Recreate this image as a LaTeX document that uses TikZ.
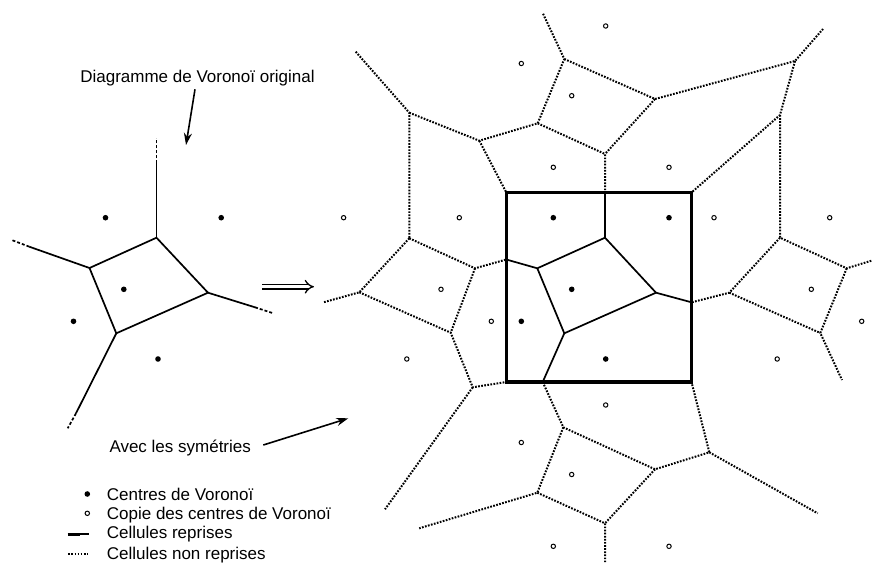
\documentclass[tikz,border=0pt]{standalone}
\usepackage{fontspec}
\setmainfont{Liberation Sans}
\usetikzlibrary{arrows.meta}

\begin{document}
\begin{tikzpicture}[x=1pt, y=-1pt,
  cell/.style={line width=1.7pt},
  copycell/.style={line width=2pt, dash pattern=on 1.7pt off 1.4pt},
  loose/.style={line width=1.7pt, dash pattern=on 3pt off 2pt},
  frame/.style={line width=3.6pt},
  centre/.style={circle, fill=black, inner sep=0pt, minimum size=5.6pt},
  copie/.style={circle, draw=black, line width=1pt, inner sep=0pt, minimum size=4.4pt},
  label/.style={font=\fontsize{17}{20}\selectfont, inner sep=0pt},
  pointer/.style={line width=1.6pt, -{Stealth[length=12pt,width=8pt]}},
]
\useasboundingbox (0,0) rectangle (872,562);

% ---------------- original diagram (left) ----------------
\node[centre] (oc1) at (105.5,217.7) {};
\node[centre] (oc2) at (221.2,217.7) {};
\node[centre] (oc3) at (123.8,289.3) {};
\node[centre] (oc4) at (73.5,321.3) {};
\node[centre] (oc5) at (158,359) {};

\coordinate (lW) at (156.5,237.7);
\coordinate (lX) at (89.5,268);
\coordinate (lY) at (116.3,333.3);
\coordinate (lZ) at (208,292.7);
\coordinate (lWa) at (156.5,163.3);  \coordinate (lWb) at (156.5,138.3);
\coordinate (lXa) at (29.3,246.7);   \coordinate (lXb) at (11.7,240);
\coordinate (lZa) at (255,307.3);    \coordinate (lZb) at (273.3,313.3);
\coordinate (lYa) at (76,413.3);     \coordinate (lYb) at (67.7,428.3);

\draw[cell] (lW) -- (lX) -- (lY) -- (lZ) -- cycle;
\draw[cell] (lW) -- (lWa);  \draw[loose] (lWa) -- (lWb);
\draw[cell] (lX) -- (lXa);  \draw[loose] (lXa) -- (lXb);
\draw[cell] (lZ) -- (lZa);  \draw[loose] (lZa) -- (lZb);
\draw[cell] (lY) -- (lYa);  \draw[loose] (lYa) -- (lYb);

% ---------------- diagram with symmetries (right) ----------------
\coordinate (A) at (409.3,112.7);
\coordinate (B) at (479.3,140.7);
\coordinate (C) at (537.7,123.3);
\coordinate (D) at (564.3,59);
\coordinate (E) at (655,99);
\coordinate (F) at (795,61);
\coordinate (G) at (780,115);
\coordinate (H) at (605,154);
\coordinate (I) at (409.3,238.3);
\coordinate (J) at (475,268.3);
\coordinate (K) at (359.3,292.3);
\coordinate (L) at (450.7,332.7);
\coordinate (M) at (472.7,387.3);
\coordinate (N) at (780,237.7);
\coordinate (O) at (846.7,268.3);
\coordinate (P) at (729.3,292.7);
\coordinate (Q) at (820.3,333);
\coordinate (R) at (709.3,452.3);
\coordinate (S) at (655,469.3);
\coordinate (T) at (605,523.3);
\coordinate (U) at (563.3,427.3);
\coordinate (V) at (537.3,492.7);

% open ends
\coordinate (a1) at (355.7,51.7);
\coordinate (d1) at (542.7,13);
\coordinate (f1) at (823,29);
\coordinate (o1) at (872,260.5);
\coordinate (q1) at (842,380);
\coordinate (k1) at (322.7,302.5);
\coordinate (m1) at (385,509.3);
\coordinate (v1) at (419.2,528.3);
\coordinate (t1) at (605,562);
\coordinate (r1) at (817.7,513.3);

% square frame and points on it
\coordinate (bTL) at (506.3,192.5);
\coordinate (bTR) at (691.5,192.5);
\coordinate (bBR) at (691.5,382);
\coordinate (bBL) at (506.3,382);
\coordinate (eT) at (605,192.5);
\coordinate (eL) at (506.3,259.5);
\coordinate (eR) at (691.5,302.3);
\coordinate (eB) at (542.7,382);

% cells of the copies
\draw[copycell] (a1) -- (A) -- (I);
\draw[copycell] (A) -- (B) -- (C) -- (D) -- (d1);
\draw[copycell] (B) -- (bTL);
\draw[copycell] (D) -- (E) -- (F) -- (f1);
\draw[copycell] (C) -- (H) -- (eT);
\draw[copycell] (E) -- (H);
\draw[copycell] (F) -- (G) -- (bTR);
\draw[copycell] (G) -- (N) -- (O) -- (o1);
\draw[copycell] (O) -- (Q) -- (q1);
\draw[copycell] (N) -- (P) -- (eR);
\draw[copycell] (P) -- (Q);
\draw[copycell] (I) -- (J) -- (eL);
\draw[copycell] (I) -- (K) -- (k1);
\draw[copycell] (J) -- (L);
\draw[copycell] (K) -- (L) -- (M) -- (bBL);
\draw[copycell] (M) -- (m1);
\draw[copycell] (eB) -- (U) -- (S) -- (R) -- (bBR);
\draw[copycell] (U) -- (V) -- (v1);
\draw[copycell] (V) -- (T) -- (t1);
\draw[copycell] (S) -- (T);
\draw[copycell] (R) -- (r1);

% retained cells
\coordinate (W) at (605,237.7);
\coordinate (X) at (537.3,268.3);
\coordinate (Y) at (564.3,333.3);
\coordinate (Z) at (656,292.7);
\draw[cell] (eT) -- (W) -- (X) -- (eL);
\draw[cell] (W) -- (Z) -- (eR);
\draw[cell] (X) -- (Y) -- (Z);
\draw[cell] (Y) -- (eB);

\draw[frame] (bTL) rectangle (bBR);

% Voronoi centres
\node[centre] (c1) at (553.3,217.7) {};
\node[centre] (c2) at (669,217.7) {};
\node[centre] (c3) at (571.7,289.3) {};
\node[centre] (c4) at (521.3,321.3) {};
\node[centre] (c5) at (605.7,359) {};

% mirrored copies of the centres
\node[copie] (t3) at (571.7,95.7) {};
\node[copie] (t4) at (521.3,63.5) {};
\node[copie] (t5) at (605.7,26) {};
\node[copie] (t1c) at (553.3,167.3) {};
\node[copie] (t2c) at (669,167.3) {};
\node[copie] (l1) at (459.3,217.7) {};
\node[copie] (l2) at (343.6,217.7) {};
\node[copie] (l3) at (441,289.3) {};
\node[copie] (l4) at (491.3,321.3) {};
\node[copie] (l5) at (406.8,359) {};
\node[copie] (r1c) at (829.7,217.7) {};
\node[copie] (r2c) at (714,217.7) {};
\node[copie] (r3c) at (811.3,289.3) {};
\node[copie] (r4c) at (861.7,321.3) {};
\node[copie] (r5c) at (777.2,359) {};
\node[copie] (b1) at (553.3,546.3) {};
\node[copie] (b2) at (669,546.3) {};
\node[copie] (b3) at (571.7,474.5) {};
\node[copie] (b4) at (521.3,442.5) {};
\node[copie] (b5) at (605.7,405) {};

% ---------------- labels and arrows ----------------
\node[label, anchor=base] (orig) at (197.5,82.3) {Diagramme de Voronoï original};
\coordinate (origA) at (195,89.3);
\coordinate (origB) at (186,145);
\draw[pointer] (origA) -- (origB);

\coordinate (impA) at (262,286.7);
\coordinate (impB) at (314,286.7);
\draw[line width=1.3pt, double distance=3.4pt, -{Implies}] (impA) -- (impB);

\node[label, anchor=base west] (sym) at (109.3,452.3) {Avec les symétries};
\coordinate (symA) at (263.3,445);
\coordinate (symB) at (348.3,418.3);
\draw[pointer] (symA) -- (symB);

% legend
\node[centre] (k1dot) at (87.3,494) {};
\node[copie] (k2dot) at (87.3,513.3) {};
\coordinate (k3a) at (67.7,534.3);
\coordinate (k3m) at (80,534.3);
\coordinate (k3b) at (89.3,534.3);
\draw[line width=2.8pt] (k3a) -- (k3m);
\draw[cell] (k3m) -- (k3b);
\coordinate (k4a) at (68.3,554.3);
\coordinate (k4b) at (88,554.3);
\draw[copycell] (k4a) -- (k4b);

\node[label, anchor=base west] (t1l) at (106.7,500) {Centres de Voronoï};
\node[label, anchor=base west] (t2l) at (106.7,519.3) {Copie des centres de Voronoï};
\node[label, anchor=base west] (t3l) at (106.7,538.8) {Cellules reprises};
\node[label, anchor=base west] (t4l) at (106.7,559) {Cellules non reprises};
\end{tikzpicture}
\end{document}
